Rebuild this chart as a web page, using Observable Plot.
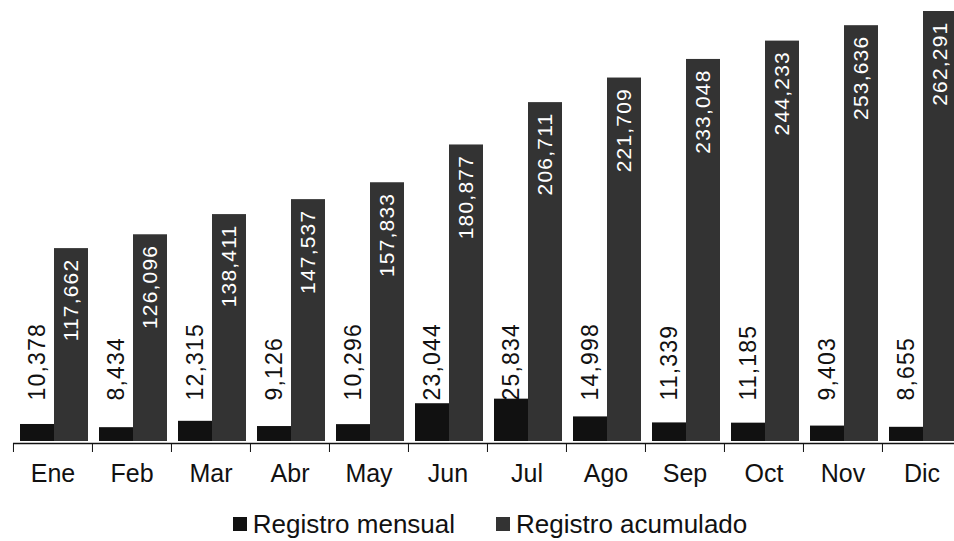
<!DOCTYPE html>
<html>
<head>
<meta charset="utf-8">
<script src="https://cdn.jsdelivr.net/npm/d3@7"></script>
<script src="https://cdn.jsdelivr.net/npm/@observablehq/plot@0.6"></script>
<style>
  html, body { margin: 0; padding: 0; background: #fff; }
  body { width: 954px; height: 541px; overflow: hidden; font-family: "Liberation Sans", Arial, sans-serif; }
  #chart svg { display: block; }
  #chart g[aria-label="text"] text { letter-spacing: 1.2px; }
  #legend { display: flex; justify-content: center; align-items: center; gap: 41px; margin-top: 9px; font-size: 26px; line-height: 30px; color: #111; padding-left: 26px; white-space: nowrap; }
  .item { display: flex; align-items: center; gap: 6px; }
  .sw { width: 14px; height: 14px; display: inline-block; }
</style>
</head>
<body>
<div id="chart"></div>
<div id="legend"></div>
<script>
const months = ["Ene","Feb","Mar","Abr","May","Jun","Jul","Ago","Sep","Oct","Nov","Dic"];
const mensual = [10378, 8434, 12315, 9126, 10296, 23044, 25834, 14998, 11339, 11185, 9403, 8655];
const acumulado = [117662, 126096, 138411, 147537, 157833, 180877, 206711, 221709, 233048, 244233, 253636, 262291];
const seriesNames = ["Registro mensual", "Registro acumulado"];
const seriesColors = ["#111111", "#333333"];

const rows = [];
months.forEach((m, i) => {
  rows.push({month: m, serie: seriesNames[0], value: mensual[i]});
  rows.push({month: m, serie: seriesNames[1], value: acumulado[i]});
});
const fmt = d3.format(",");

const W = 954, H = 500, ML = 12, MR = -7, MT = 11, MB = 59;
const step = (W - ML - MR) / months.length;

const chart = Plot.plot({
  width: W, height: H,
  marginLeft: ML, marginRight: MR, marginTop: MT, marginBottom: MB,
  style: {fontFamily: "Liberation Sans, Arial, sans-serif", background: "#fff", color: "#111"},
  fx: {domain: months, padding: 0, label: null},
  x: {domain: seriesNames, axis: null, paddingInner: 0, paddingOuter: 0.13, align: 0.6},
  y: {domain: [0, d3.max(acumulado)], axis: null},
  color: {domain: seriesNames, range: seriesColors},
  marks: [
    Plot.barY(rows, {fx: "month", x: "serie", y: "value", fill: "serie"}),
    Plot.ruleY([0], {stroke: "#111", strokeWidth: 1.5, dy: 2}),
    Plot.text(rows.filter(d => d.serie === seriesNames[0]), {
      fx: "month", x: "serie", text: d => fmt(d.value),
      frameAnchor: "bottom", dy: -41, rotate: -90, textAnchor: "start",
      lineAnchor: "middle", fontSize: 23, fill: "#111"
    }),
    Plot.text(rows.filter(d => d.serie === seriesNames[1]), {
      fx: "month", x: "serie", y: "value", text: d => fmt(d.value),
      dy: 10, rotate: -90, textAnchor: "end",
      lineAnchor: "middle", fontSize: 21, fill: "#fff"
    }),
    Plot.axisFx({anchor: "bottom", tickSize: 9, tickFormat: () => "", dx: -step / 2, dy: 2, stroke: "#111", label: null}),
    Plot.axisFx({anchor: "bottom", tickSize: 0, tickPadding: 23, fontSize: 25, label: null, fill: "#111"})
  ]
});
document.getElementById("chart").appendChild(chart);

const legend = document.getElementById("legend");
seriesNames.forEach((s, i) => {
  const item = document.createElement("span");
  item.className = "item";
  const sw = document.createElement("span");
  sw.className = "sw";
  sw.style.background = seriesColors[i];
  item.appendChild(sw);
  item.appendChild(document.createTextNode(s));
  legend.appendChild(item);
});
</script>
</body>
</html>
